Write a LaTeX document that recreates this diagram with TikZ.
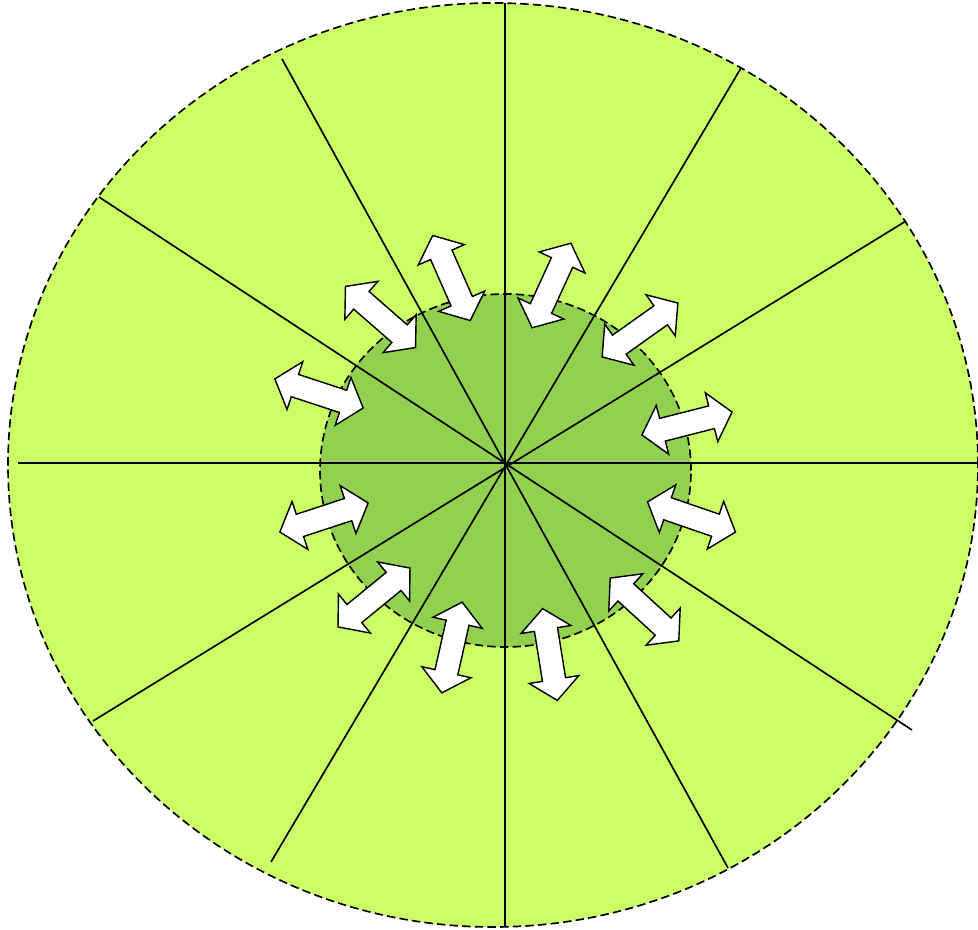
\documentclass[tikz,border=0pt]{standalone}
\usepackage{tikz}
\usetikzlibrary{shapes.arrows}
\definecolor{outergreen}{HTML}{CCFF66}
\definecolor{innergreen}{HTML}{92D050}

\begin{document}
\begin{tikzpicture}[x=0.02cm,y=0.02cm,
    ring/.style={draw=black,line width=0.95pt,dash pattern=on 4.8pt off 2.4pt},
    spoke/.style={draw=black,line width=0.95pt},
    flow/.style={double arrow,draw=black,fill=white,line width=0.8pt,
      minimum height=1.86cm,inner xsep=0pt,inner ysep=0.22cm,
      double arrow head extend=0.27cm,double arrow tip angle=100}]
    \useasboundingbox (0,0) rectangle (978,930);
    % zones
    \draw[ring,fill=outergreen] (493,465) ellipse [x radius=485,y radius=462];
    \draw[ring,fill=innergreen] (505.5,459.5) ellipse [x radius=185.5,y radius=176.5];
    % spokes
    \draw[spoke] (505,927) -- (505,3);
    \draw[spoke] (18,467) -- (978,467);
    \draw[spoke] (282,871) -- (728,62);
    \draw[spoke] (99,733) -- (912,200);
    \draw[spoke] (741,862) -- (271,68);
    \draw[spoke] (906,709) -- (93,209);
    % exchange arrows
    \node[flow,rotate=113.8] (a1) at (451.5,652) {};
    \node[flow,rotate=-41.1] (a2) at (380.5,613) {};
    \node[flow,rotate=-18.2] (a3) at (319,536.5) {};
    \node[flow,rotate=18.2] (a4) at (324,412.5) {};
    \node[flow,rotate=39.3] (a5) at (374,332.5) {};
    \node[flow,rotate=77.3] (a6) at (452,282.5) {};
    \node[flow,rotate=-80.9] (a7) at (550,275.5) {};
    \node[flow,rotate=-42.5] (a8) at (644.5,320.5) {};
    \node[flow,rotate=-19.0] (a9) at (691.5,413) {};
    \node[flow,rotate=14.3] (a10) at (687,506.5) {};
    \node[flow,rotate=35.4] (a11) at (640,600) {};
    \node[flow,rotate=65.4] (a12) at (551.5,644.5) {};
\end{tikzpicture}
\end{document}
